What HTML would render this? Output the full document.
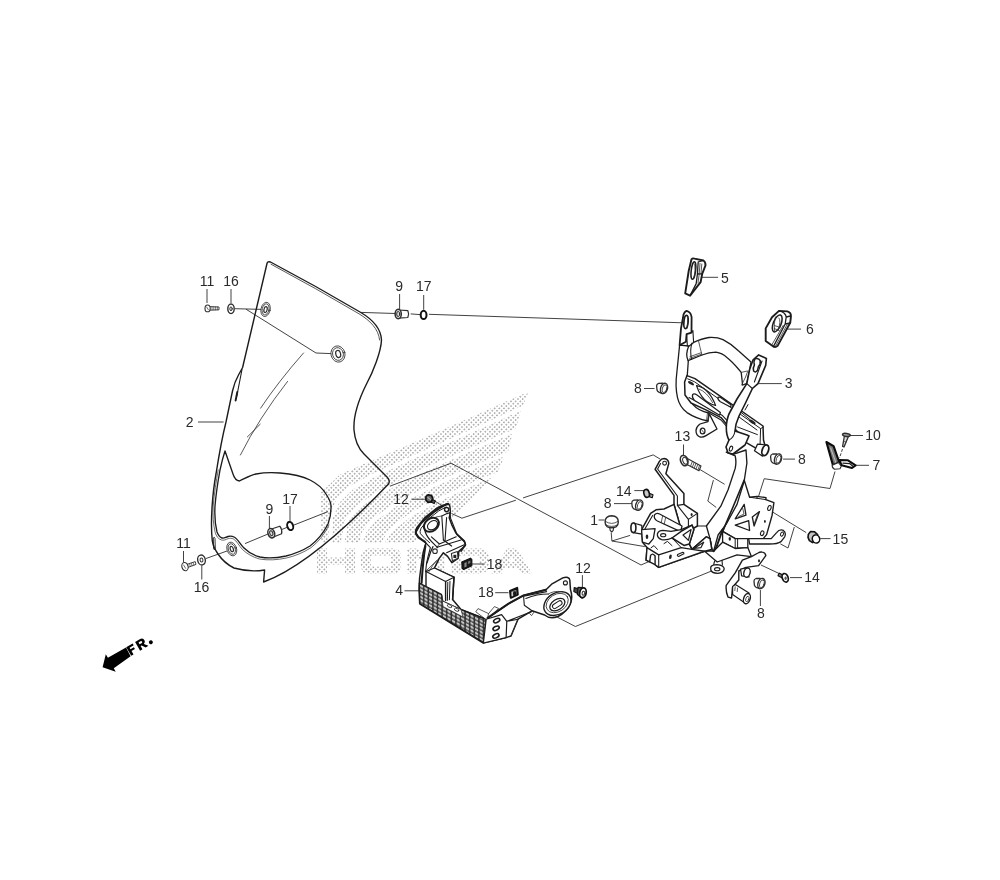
<!DOCTYPE html>
<html><head><meta charset="utf-8">
<style>
html,body{margin:0;padding:0;background:#fff;}
body{width:1000px;height:880px;overflow:hidden;font-family:"Liberation Sans",sans-serif;}
svg{display:block;will-change:transform;transform:translateZ(0);filter:blur(.45px)}
.o{fill:#fff;stroke:#1c1c1c;stroke-width:1.25;stroke-linejoin:round;stroke-linecap:round}
.n{fill:none;stroke:#1c1c1c;stroke-width:1.25;stroke-linejoin:round;stroke-linecap:round}
.t{fill:none;stroke:#2e2e2e;stroke-width:.8;stroke-linejoin:round;stroke-linecap:round}
.tw{fill:#fff;stroke:#2e2e2e;stroke-width:.8;stroke-linejoin:round;stroke-linecap:round}
.l{fill:none;stroke:#2c2c2c;stroke-width:.9;stroke-linecap:butt;stroke-linejoin:miter}
.k{fill:#222;stroke:#1c1c1c;stroke-width:.8;stroke-linejoin:round}
text{font-family:"Liberation Sans",sans-serif;font-size:14px;fill:#2a2a2a;text-anchor:middle}
</style></head><body>
<svg width="1000" height="880" viewBox="0 0 1000 880">
<defs>
<pattern id="dots" width="3.3" height="3.3" patternUnits="userSpaceOnUse" patternTransform="rotate(45)">
<circle cx="1.65" cy="1.65" r=".7" fill="#666"/>
</pattern>
<clipPath id="wing">
<path d="M320.8,492.8 L340,474.4 L367.2,462.4 L412,443.2 L470,417.8 L506,401.6 L528.5,391.7 L523,405.5 L470,430 L412,456 L372,474 L350,486 L336,500 L330,516 L328,543 L320.8,543 Z"/>
<path d="M520.6,411 L516,428.5 L470,448 L420,470 L380,490 L356,506 L345,520 L341,543 L331.5,543 L333,518 L339,503 L353,489.5 L374,477.5 L412,459.5 L470,433.5 Z"/>
<path d="M512.6,433.6 L508,451.5 L470,467 L430,485 L395,503 L372,519 L362,532 L359,543 L344.5,543 L348,522 L358.5,508.5 L382,493 L421,473.5 L470,451.5 Z"/>
<path d="M504.6,456.2 L497.6,472 L470,483.5 L440,497 L410,513 L390,528 L381,543 L362.5,543 L365.5,533.5 L375,521.5 L397,506 L431.5,488.2 L470,470.6 Z"/>
<path d="M492,477.6 L482,487.6 L470,502 L452,518 L430,533 L412,543 L384.5,543 L393,530.5 L412,516 L441.5,500.2 L470,487 Z"/>
<!-- HONDA -->
<path d="M317,548.5 h10 v9 h18 v-9 h10 v25 h-10 v-9 h-18 v9 h-10 Z"/>
<path fill-rule="evenodd" d="M369,548.5 h24 q8,0 8,8 v9 q0,8 -8,8 h-24 q-8,0 -8,-8 v-9 q0,-8 8,-8 Z M371,555.5 v11 h20 v-11 Z"/>
<path d="M407,548.5 h10 l18,15 v-15 h10 v25 h-10 l-18,-15 v15 h-10 Z"/>
<path fill-rule="evenodd" d="M451,548.5 h29 q9,0 9,9 v7 q0,9 -9,9 h-29 Z M461,555.5 v11 h18 v-11 Z"/>
<path fill-rule="evenodd" d="M507,548.5 h10 l15,25 h-11 l-3,-5.5 h-13 l-3,5.5 h-11 Z M509.2,562 h6 l-3,-6 Z"/>

</clipPath>
</defs>
<rect width="1000" height="880" fill="#fff"/>
<g id="watermark">
<rect x="310" y="385" width="230" height="195" fill="url(#dots)" clip-path="url(#wing)"/>
</g>
<g id="lines">
<!-- label leaders -->
<path class="l" d="M207,289 V303 M231,289 V303"/>
<path class="l" d="M399.6,294 V309 M423.7,295 V309.7"/>
<path class="l" d="M198,422 H223.6"/>
<path class="l" d="M269.4,516 V530 M290,506 V523"/>
<path class="l" d="M183.5,551 V562 M201.8,565.5 V579.5"/>
<path class="l" d="M411.4,499.2 H425"/>
<path class="l" d="M582.4,575.1 V587"/>
<path class="l" d="M404.5,590.8 H419.5"/>
<path class="l" d="M472.1,564 H484.7 M495.2,592.7 H508.5"/>
<path class="l" d="M702,277.3 H718.1 M787.4,329.1 H801 M758.7,383.6 H781.8"/>
<path class="l" d="M644,388.5 H654.5 M783.1,459.1 H795 M614,503.6 H632.2 M760.4,590 V606"/>
<path class="l" d="M683.5,444.5 V455"/>
<path class="l" d="M850,435.5 H863 M856,465.3 H869"/>
<path class="l" d="M634.3,490.6 H644.1 M790,577.6 H802"/>
<path class="l" d="M598.6,520 H604.5"/>
<path class="l" d="M820.2,538.6 H830.5"/>
<!-- windscreen top-left fasteners -->
<path class="l" d="M235,308.7 L262,309.4 M246,309.2 L316,353 L331,353.6"/>
<!-- top long line 9/17 to bracket eye -->
<path class="l" d="M361,312.4 L395.3,313.5 M410.7,313.9 L420.1,314.6 M428.9,314.3 L682.4,322.8"/>
<!-- bottom-left fasteners line -->
<path class="l" d="M206,558.5 L227,551 M245,543.6 L268,534 M282,529.4 L287,527.4 M294,525 L328,511.6"/>
<!-- big assembly lines -->
<path class="l" d="M389.9,486.2 L451.1,463.2 L641,565 L656,558.5"/>
<path class="l" d="M461.9,518.2 L515.9,500.2 M523.1,497.9 L653.2,454.9 L660.2,459.1"/>
<path class="l" d="M451.5,513.5 L461.9,518.2"/>
<path class="l" d="M434.5,500.8 L441,505"/>
<path class="l" d="M557.2,617.1 L575.4,626.5 L714,570"/>
<!-- part 13 bolt line and bracket -->
<path class="l" d="M700.1,469.6 L724.6,484.3 M713.4,480.1 L707.8,501.1 L716.2,507.4"/>
<!-- part 1 V -->
<path class="l" d="M611.2,532.6 L611.9,541 L630.1,535.4 M611.9,541 L644.8,546.6"/>
<!-- part 7 line -->
<path class="l" d="M835,471.5 L830,488.5 L764.2,478.7 L758.6,496.2"/>
<path class="l" d="M842.5,449 L839.5,458" style="stroke-dasharray:3 1.5"/>
<!-- part 15 line -->
<path class="l" d="M771.9,511.6 L806.2,532.6 M794.3,527 L788,548 L780.3,543.8"/>
<!-- part 14 right line -->
<path class="l" d="M761,565 L778,573"/>
</g>
<g id="windscreen">
<!-- outer outline -->
<path class="n" style="stroke-width:1.4" d="M267,263.5 Q267.6,261 270.5,262 Q316,286 360,312 C372,319 381,328 381.5,340 C381,352 373,372 366.5,384 C360,397 353,414 354,430 C355,442 360,450 364,454 L387,477 Q390.5,480.5 388.5,484 Q311,565 263.6,582 L264.6,570 Q250,572.5 234,568 Q224,563 218,554 Q213.5,548 212.3,541 C210,520 213,490 216,474 C219,455 222,438 226,422 L232.5,391 Q234.5,382 238.5,375 L242.6,367.5 Z"/>
<!-- top edge second line -->
<path class="t" d="M271,264.2 Q316,288.3 359,313.8 C370,320.5 378.6,329 379.6,340"/>
<!-- left notch inner line -->
<path class="n" style="stroke-width:1.1" d="M242,369.5 L236.8,396"/>
<path class="n" style="stroke-width:1.9" d="M237.3,392 L235.6,400.5"/>
<!-- slot near bottom-left -->
<path class="n" style="stroke-width:.9" d="M213.6,537.5 Q214.6,536.5 215,538.5 L215.3,549 Q214.6,551 213.7,549 Z"/>
<!-- reflections -->
<path class="t" d="M303.5,353 Q278,382 260.6,408.2"/>
<path class="t" d="M287.6,381.4 Q259,418 240.4,455"/>
<path class="t" d="M260.2,424.2 L247.3,437"/>
<!-- inner cutout -->
<path id="cut" class="n" style="stroke-width:1.35" d="M225,451 L233,474 Q235,480.5 239.5,481 C245,478.5 250,475.2 256,474 C265,472.3 272,472.3 280,473 C292,474 302,476 310,480 C318,484 323,489 326,494 C330,500 331.5,504 331,508 C331,514 330,519 328,524 C324,532 318,540 310,546 C302,551 294,554 286,556 C277,558 268,558.5 260,557 C254,555.5 248,552 244,548 C240,544 238,539 234,537 C232,536 230,536 228,536.5 C225,537.5 224,538.8 222,538 C219,537 218,534.5 217,532 C215,524 214.5,515 215,506 C216,494 218,481 220,470 C221.5,463 223,457 225,451 Z"/>
<path class="t" style="stroke-width:.7" d="M329,525 C325,533.5 319,541.5 311,547.7 C303,552.8 295,556 286.5,558 C277,560 268,560.5 259.5,559 C253,557.3 246.5,553.5 242.5,549.5 C239,546 237,541 233.5,539 C231.5,538 230,538.2 228.3,538.6 C225.5,539.5 224,540.8 221.5,540 C218,539 216.3,536 215.2,532.6 C213.2,524 212.7,515 213.2,506 C214.2,494 216.2,481 218.2,470"/>
<!-- grommets -->
<g transform="rotate(12 265.6 309.4)"><ellipse class="tw" cx="265.6" cy="309.4" rx="4.6" ry="7.2"/><ellipse class="t" cx="265.6" cy="309.4" rx="3.4" ry="5.6"/><ellipse class="t" style="stroke-width:1.2" cx="265.6" cy="309.6" rx="1.6" ry="3"/></g>
<g transform="rotate(-15 338 354)"><ellipse class="tw" cx="338" cy="354" rx="7" ry="8.2"/><ellipse class="t" cx="338" cy="354" rx="5.4" ry="6.4"/><ellipse class="t" style="stroke-width:1.2" cx="338.2" cy="354" rx="2.4" ry="3.6"/></g>
<g transform="rotate(-18 231.8 549)"><ellipse class="tw" cx="231.8" cy="549" rx="4.8" ry="7"/><ellipse class="t" cx="231.8" cy="549" rx="3.5" ry="5.4"/><ellipse class="t" style="stroke-width:1.2" cx="231.8" cy="549" rx="1.5" ry="2.8"/></g>
</g>
<g id="part4">
<defs>
<pattern id="grid" width="4.6" height="3.7" patternUnits="userSpaceOnUse" patternTransform="matrix(1 .52 0 1 419 583)">
<rect width="4.6" height="3.7" fill="#303030"/><rect x=".8" y=".65" width="3.2" height="2.5" rx=".8" fill="#c6c6c6"/>
</pattern>
</defs>
<!-- main silhouette (white fill to hide watermark) -->
<path class="o" style="stroke-width:1.5" d="M446.9,503.8 Q449.5,504 449.9,506.5 L450.4,512.2 L449.2,517.8 L451.8,524.8 L456,533.2 L464.4,541.6 Q466,544 465.1,545.8 L458.8,551.4 L458.1,558.4 L451.8,562.6 L447.6,556.3 L443.4,552.8 L439.2,558.4 L434.4,568.1 L454,577.2 L452.6,599.6 L461,609.4 L486.2,619.2 L508.2,603.8 L523.6,595.4 L546,589.8 L551.6,584.2 L562.8,577.9 Q566,576.6 567.7,577.5 Q569.6,578.4 569.8,580 L570.5,589.8 Q573,597 570.5,603.5 Q567,612 558,616.5 Q550,619.5 544.6,615 L532,610.8 L518,619.2 L511,636 L506.1,637.6 L483.4,643 L419.7,603.8 L419,589.2 L419.6,578 L421,566.8 L423.1,552.8 L425.9,543 L417.5,536 Q415.4,534 416.1,531.8 L421,523.4 L435,511.5 Z"/>
<!-- grille area -->
<path d="M419.3,583 L441.4,594.2 L442.8,601.2 L461,609.6 L486,619.4 L483.6,642.6 L419.9,603.5 Z" fill="url(#grid)" stroke="#1a1a1a" stroke-width="1.2" stroke-linejoin="round"/>
<path d="M441.6,594.4 L442.9,601.2 L461,609.6 L463,617 L443,606.5 Z" fill="#fff" stroke="#222" stroke-width=".7"/>
<ellipse cx="449.5" cy="606" rx="2.4" ry="1.3" class="tw" transform="rotate(25 449.5 606)"/><ellipse cx="456.6" cy="609.8" rx="2.4" ry="1.3" class="tw" transform="rotate(25 456.6 609.8)"/>
<!-- right face with 3 oval holes -->
<path class="o" style="stroke-width:1.2" d="M486.2,619.2 L501.6,614.6 L506.8,621.3 L506.1,637.6 L483.4,643 Z"/>
<g class="n" style="stroke-width:1.6"><ellipse cx="496.7" cy="620.6" rx="3.3" ry="1.9" transform="rotate(-25 496.7 620.6)"/><ellipse cx="496.1" cy="628.3" rx="3.3" ry="1.9" transform="rotate(-25 496.1 628.3)"/><ellipse cx="495.9" cy="635.9" rx="3.3" ry="1.9" transform="rotate(-25 495.9 635.9)"/></g>
<path class="n" style="stroke-width:1.1" d="M506.8,621.3 L518,619.2 M506.8,621.3 L532,611.5"/>
<!-- small block on top edge near right face -->
<path class="tw" d="M476,611.5 L478,608.6 L488.6,613.6 L494.4,606.6 L498.6,608.4 L490,616.6 L486.2,619.2 Z"/>
<path class="t" d="M488.6,613.6 L487.4,618.6"/>
<!-- box -->
<path class="o" style="stroke-width:1.1" d="M426,571.6 L434.4,568.1 L454,577.2 L445.6,581.4 Z"/>
<path class="n" style="stroke-width:1.4" d="M445.6,581.4 L445.6,600.6 M454,577.2 L452.6,599.6 M426,571.6 L426,586.6"/><path class="n" style="stroke-width:1" d="M447.8,582.4 L447.4,600.4 M450,581.4 L449.4,599.8"/>
<path class="t" d="M425.9,571 L439.2,558.4"/>
<!-- left flange inner lines -->
<path class="n" style="stroke-width:1.1" d="M425.9,543 L430.4,547.6 Q428,556 426.6,563 L425.6,571.6"/>
<path class="n" style="stroke-width:2" d="M425.4,546 Q423,560 421.6,583"/>
<path class="t" d="M428.4,572.6 L432.6,565.6 L436.6,560.6"/>
<!-- outer flange bold -->
<path class="n" style="stroke-width:2.1" d="M448.2,504 Q442,505.4 437,508.4 L425,517.8 L417,528 Q415.2,531.4 416,533.6 L418.6,537.6 L425,541.8"/>
<path class="n" style="stroke-width:1" d="M446,507 L438.6,511 L428,519.4 L421,528.4 Q419.4,531.6 420.4,533.6 L425,538.6 L429.6,542.6"/>
<!-- ring -->
<g transform="rotate(-38 431.4 524.8)"><ellipse class="o" style="stroke-width:2" cx="431.4" cy="524.8" rx="8.2" ry="6.2"/><ellipse class="n" style="stroke-width:1.1" cx="432" cy="525.8" rx="5.6" ry="4"/></g>
<path class="n" style="stroke-width:1.3" d="M424.6,529.6 Q426,536 431.6,541.6 L437.6,547.6"/>
<!-- inner ribs -->
<path class="n" style="stroke-width:1.1" d="M441.8,516 L443.4,540 M446.6,517.6 L445,541 M441.8,516 L447,513.6 L449.8,512.8"/>
<path class="n" style="stroke-width:1.1" d="M431.4,536.8 L439.4,544 L456.2,536.8 M437,547.2 L461,540 M446.6,552.8 L464.2,544.8"/>
<path class="t" d="M436,517 L441.8,516 M439.4,544 L437,547.2"/>
<path class="n" style="stroke-width:1.2" d="M449.8,512.8 L450.6,518.4 L457,534.4 M443.4,540 L451.6,546 M433,546.6 L430.6,552 L427,563"/>
<path class="n" style="stroke-width:1.6" d="M457,534.4 L464.2,540.8 L465.4,544.8 L461,551.2"/>
<!-- bolt hole in tab -->
<circle class="n" style="stroke-width:1.4" cx="446.6" cy="509.6" r="2.1"/>
<!-- small knob under arm -->
<circle class="tw" style="stroke-width:1.1" cx="435" cy="551.2" r="2.3"/>
<!-- small square w/ hole -->
<path class="tw" style="stroke-width:1.1" d="M451.4,553.6 L457.4,551.6 L458,558.2 L452.4,560.8 Z"/><rect x="453.4" y="554.8" width="2.9" height="3.2" fill="#222"/>
<!-- right arm -->
<path class="n" style="stroke-width:1.1" d="M523.6,596.2 L524.3,605.2 L532,610.8 M523.6,596.2 L546.6,591.6 M525.8,598.4 Q537,594 548.4,594"/>
<path class="t" d="M511,636 L518,619.2 M532,611 L529.6,613.6 L531.6,615.6 L534,612"/>
<path class="n" style="stroke-width:2" d="M487.6,617.8 L508.2,603.8 L523.6,595.4 L546,589.8"/>
<!-- boss -->
<g transform="rotate(-33 557.4 603.6)"><ellipse class="o" style="stroke-width:1.4" cx="557.4" cy="603.6" rx="14.6" ry="10.6"/><ellipse class="t" cx="557.6" cy="603" rx="12" ry="8.6"/><ellipse class="n" style="stroke-width:1.3" cx="556.8" cy="604.4" rx="8.4" ry="5.2"/><rect class="n" style="stroke-width:1" x="551.4" y="602.2" width="10.6" height="4.4" rx="2.2"/></g>
<path class="t" d="M548.4,594 Q553,590.6 561.6,591.6"/>
<circle class="n" style="stroke-width:1.1" cx="565.4" cy="582.9" r="2"/>
</g>
<g id="bracket">
<!-- ===== part 5 cap ===== -->
<path class="o" style="stroke-width:1.9" d="M691.5,259.3 Q692.5,258 694.5,258.6 L703.4,260.5 Q705.6,261.6 705.5,265.4 L702.2,273.8 L700.6,282.2 L690.1,295.6 L685.2,293.4 L688.7,271 Z"/>
<path class="n" style="stroke-width:1.3" d="M698.2,262 L697.4,274 L696.2,283.6 L690.1,295.6 M698.2,262 L703.4,260.5 M697.4,274 L702.2,273.8"/>
<path class="t" d="M700,263.4 L699.2,274 L698,283 M701.8,264 L701,273.6"/>
<ellipse class="n" style="stroke-width:1.5" cx="693.4" cy="270.6" rx="2.2" ry="8.8" transform="rotate(7 693.4 270.6)"/>
<path class="t" d="M694.8,264 Q695.8,271 694,278"/>
<!-- ===== part 6 cap ===== -->
<path class="o" style="stroke-width:1.9" d="M779,310.9 L787.4,311.4 Q791.4,312.6 790.9,316.8 L790.2,322.8 L777.6,345.9 Q775.6,347.6 773.4,346.6 L765.7,341 L765.7,328.4 L772,317.2 Z"/>
<path class="n" style="stroke-width:1.3" d="M786.2,317 L785.2,324 L773.4,346.6 M786.2,317 L790.6,316 M785.2,324 L790.2,322.8 M779,310.9 Q785.6,312.4 786.2,317"/>
<ellipse class="n" style="stroke-width:1.5" cx="777.2" cy="323.4" rx="3.9" ry="9" transform="rotate(22 777.2 323.4)"/>
<path class="t" d="M775.4,317 Q773.6,324 774.4,331 M779,318 Q781.4,320.6 778,330.6 M774.6,325.6 L780,327.4 M774.2,328.6 L779.2,330.4"/>
<path class="t" d="M783.2,325.4 L771.6,345.2 M787.4,324 L775.6,346"/>

<!-- ===== part 3 upper frame ===== -->
<!-- left tube (behind plate) -->
<path class="o" style="stroke-width:1.3" d="M679.6,345.2 L676.8,373 Q675,386 677.5,397.6 Q679.6,407 687,412.6 Q696,418.6 708,421 L709,413 Q698,410.6 693,404.6 Q688.4,398.6 687.4,390 L686.6,385 L688.3,361 L689,346 Z"/>
<!-- cross tube -->
<path class="o" style="stroke-width:1.3" d="M688.6,346.4 L693.6,342.4 Q702,338.4 709,337.5 Q717,337 723,339.6 Q731,343.6 738.4,350.8 L751,362 L749.6,369.6 L746.8,383.6 L742.6,385 L741.2,372.4 L738.4,369 Q732,361.6 727.2,357.8 Q722,353 716,352.2 Q709,352.2 702,355 L688,360.6 Q685.2,354 688.6,346.4 Z"/>
<path class="n" style="stroke-width:1.1" d="M692,343 Q689.6,350 691.6,359.4"/><path class="t" d="M698.4,340.4 Q700,347.6 702,355 M690,356.6 L701,352.8 M689.6,358.4 L701.6,354.2"/>
<path class="t" d="M741.2,372.4 L747.4,371 M742.6,385 L746.8,383.6"/>
<!-- left eye -->
<path class="o" style="stroke-width:1.8" d="M686.6,310.9 Q683.4,312.4 683.1,317.2 L681,328.4 L679.6,345.2 L685.9,341.8 L686.6,334.2 L691.5,332.6 L691.6,317.2 Q691,312 686.6,310.9 Z"/>
<path class="n" style="stroke-width:1.1" d="M691.5,332.6 L692.9,330.5 L693.6,342.4 M686.6,334.2 L687.4,346"/>
<ellipse class="n" style="stroke-width:1.7" cx="686" cy="322" rx="2.1" ry="6.6" transform="rotate(5 686 322)"/>
<path class="t" d="M687.6,316 Q688.6,322 686.8,328.6"/>

<!-- plate -->
<path class="o" style="stroke-width:1.5" d="M687,375.6 L695,378.6 L763,426 L763.5,440 L765.4,447 L765,455 L758,449.4 L737.6,437.6 L721,417.6 L707,410.4 L691,403 L685,395 L684.6,382 Z"/>
<path class="n" style="stroke-width:1" d="M687.6,378.8 L694.6,381.8 L760.6,428.6 L763.4,427 M760.6,428.6 L760,446"/>
<path class="n" style="stroke-width:1.1" d="M689,397.6 L708,407.4 L722,415.2 L738,432 M709,413 L721,420 L735,436"/>
<g style="fill:#fff;stroke:#1c1c1c;stroke-width:1.2;stroke-linejoin:round"><path d="M696.5,385.6 Q709,388 715.6,405.4 Q702,402.4 696.5,385.6 Z"/><path d="M718,397.4 Q719.6,396.6 722,398.4 L730.6,404.4 Q731.8,406.4 730,406.8 L720.4,401.8 Q717.4,399.6 718,397.4 Z"/><path d="M692.6,394.4 Q694.4,393.2 697,395 L720.4,412.4 L719.6,415.2 L694.6,400.6 Q691.6,397.6 692.6,394.4 Z"/></g>
<path class="t" d="M699,389 Q707,392 712.6,402.6"/>
<ellipse cx="691" cy="383.2" rx="3.4" ry="1.3" fill="#222" transform="rotate(32 691 383.2)"/>
<ellipse cx="752.4" cy="422" rx="3.6" ry="1.5" fill="#222" transform="rotate(32 752.4 422)"/>
<path class="n" style="stroke-width:1" d="M740.6,412 L750,419.6 M739,417 L757,430 M737.6,427 L757.4,434.6 M745,410 L748,404.6"/>
<!-- stub cylinder -->
<path class="o" style="stroke-width:1.3" d="M757.5,444.2 L765.6,444.8 L762.6,456.2 L754.5,450.8 Z"/>
<ellipse class="o" style="stroke-width:1.8" cx="765.3" cy="450.3" rx="3.1" ry="5.5" transform="rotate(20 765.3 450.3)"/>
<!-- left tab with hole -->
<path class="o" style="stroke-width:1.3" d="M708,421.6 L700,424 Q696.4,426.4 696,430.4 Q696,435.4 700,437 Q703,437.6 706,435.6 L717,429 L709,413.4 Z"/>
<ellipse class="n" style="stroke-width:1.2" cx="702.6" cy="431" rx="2.4" ry="2.9"/><path class="t" d="M701.6,429.6 L703.6,432.4"/>
<path class="t" d="M707.6,412 L706.6,420 M709.2,412.8 L708.2,420.8"/>

<!-- right tube + eye -->
<path class="o" style="stroke-width:1.6" d="M758.7,354.9 L766.4,358.4 L765.7,365.4 L758,383.6 L752.4,388.5 L745,404 L739,416 Q735.4,424 735,431 L747,435 L749,436 L745,445 L733,454 L728,453 L726,447 L729,440 Q725.6,434 726.5,424 Q727.6,416 730,412 L737,399 L746.8,383.6 L749.6,369.6 L753.1,359.8 Z"/>
<path class="n" style="stroke-width:1.1" d="M746.8,383.6 L752.4,388.5 M762,361 L754.4,382 M729,440 Q734,437.6 735,431"/>
<path class="n" style="stroke-width:1.5" d="M755,358.8 Q758.6,357.6 760.2,360.6 Q760.8,364 758.4,366.6 L757.4,370.6 Q755.4,373 753.6,371 Q752.6,368 754.4,365 Q753.4,361 755,358.8 Z"/>
<ellipse class="n" style="stroke-width:1.1" cx="731" cy="448.6" rx="1.5" ry="2.6" transform="rotate(20 731 448.6)"/>
<path class="t" d="M741.6,385 L745.6,377 L747.6,371.6"/>
</g>
<g id="base">
<!-- ===== right plate with triangles ===== -->
<path class="o" style="stroke-width:1.4" d="M744.2,480.1 L749.6,497.2 L757,496.4 L766,497.6 L765.8,499.6 L773.9,502.6 L772.1,515.2 L766.6,534.6 L762,540 L749,538.6 L735.2,538.6 L722.6,531.4 L733,507 Z"/>
<path class="n" style="stroke-width:1" d="M749.6,497.2 L765.8,499.6 M757,496.4 L757,498.4"/>
<g style="fill:#fff;stroke:#1c1c1c;stroke-width:1.3;stroke-linejoin:round"><path d="M744.2,504.4 L746,515.2 L735.2,518.8 Z"/><path d="M748.7,520.6 L749.6,530.5 L735.2,525.1 Z"/><path d="M759.5,511.6 L754.1,526 L752.3,517 Z"/></g>
<path class="t" d="M742.6,508 L744,514 L738.6,516.6 M757.6,514.6 L754.4,523"/>
<ellipse class="n" style="stroke-width:1.1" cx="769.4" cy="508" rx="1.6" ry="2.6" transform="rotate(20 769.4 508)"/>
<ellipse class="n" style="stroke-width:1.1" cx="762.2" cy="533.2" rx="1.6" ry="2.4" transform="rotate(20 762.2 533.2)"/>
<ellipse cx="764.9" cy="521.5" rx=".9" ry="1.4" fill="#222"/>
<!-- right arm loop -->
<path class="o" style="stroke-width:1.3" d="M748.7,538.6 L771.2,538.6 L776.6,532.6 Q779.6,528.8 783.4,530.4 Q786.4,532.6 784.7,536.8 L781,541.6 Q777.6,544 769.4,544 L749.6,544 Z"/>
<ellipse class="n" style="stroke-width:1" cx="782" cy="534.1" rx="1.4" ry="2.1" transform="rotate(25 782 534.1)"/>
<!-- right box -->
<path class="o" style="stroke-width:1.3" d="M722.6,531.4 L735.2,538.6 L747.8,538.6 L747.8,547.6 L735.2,548.5 L722.6,542.2 Z"/>
<path class="n" style="stroke-width:1" d="M735.2,538.6 L735.2,548.5 M737.6,539 L737.6,548.2"/><ellipse cx="729.8" cy="538.8" rx="1.2" ry="1.9" fill="#222"/>
<!-- base plate right/under -->
<path class="o" style="stroke-width:1.3" d="M704.6,551.2 L713.6,551.2 L722.6,542.2 L735.2,548.5 L747.8,547.6 L751.4,556.6 L737,554.8 L717.2,562 Z"/>
<!-- stem -->
<path class="o" style="stroke-width:1.35" d="M726.2,452.2 L735.2,455.8 Q736.6,462 735.2,468.4 L728,490 L720.8,506.2 L706.4,526 L710,538.6 L711.8,549.4 L713.6,551.2 L718.1,535 L726.2,524.2 L737,504.4 L744.2,481 L746.9,463 L746,450 L733,454.4 Z"/>
<path class="n" style="stroke-width:1.9" d="M722.6,529.6 L716.6,546.6 L713.6,551.2"/>
<path class="n" style="stroke-width:1.6" d="M744.2,480.1 L733,507 L722.6,531.4"/>

<!-- ===== upright arm (left) ===== -->
<path class="o" style="stroke-width:1.5" d="M664.1,458.6 Q668.4,459.2 668.8,463.4 L665.9,473.8 L683.9,493.6 L683.9,504.4 L697.4,513.4 L697.4,526 L688.4,531.4 L681.2,529.6 L674,504.4 L674,495.4 L655.1,469.3 L659.4,461.4 Q661.4,458.6 664.1,458.6 Z"/>
<path class="n" style="stroke-width:1.1" d="M660.6,463.6 L657.6,469 L677.4,496 L677.4,505.4 L688.4,519.4 L688.4,531.4 M677.4,505.4 L683.9,504.4 M688.4,519.4 L697.4,513.4"/>
<circle class="n" style="stroke-width:1.1" cx="664.6" cy="463.2" r="1.9"/>
<ellipse cx="691.6" cy="514.6" rx="1" ry="1.6" fill="#222"/>

<!-- ===== left body ===== -->
<path class="o" style="stroke-width:1.5" d="M641.6,529.6 L650.6,513.4 L656,509.8 L664,509 L674,504.4 L681.2,529.6 L692,525.1 L693.8,529.6 L689.3,544 L692,549.4 L706.4,536.8 L710,538.6 L711.8,549.4 L704.6,551.2 L658.7,567.4 L655.1,564.7 L646.1,560.2 L647,547.6 L642.5,542.2 Z"/>
<path class="n" style="stroke-width:1.1" d="M652.6,515.4 L644,530.6"/>
<!-- left pin -->
<path class="o" style="stroke-width:1.2" d="M633.5,523 L641.8,525.4 L641.8,534.2 L633.5,532.6 Z"/>
<ellipse class="o" style="stroke-width:1.6" cx="633.4" cy="527.8" rx="2.5" ry="4.8"/>
<!-- plate with hole -->
<path class="o" style="stroke-width:1.3" d="M641.6,529.6 L655.1,528.7 L653.3,538.6 L648.8,544 L642.5,542.2 Z"/>
<ellipse cx="647" cy="536.8" rx="1.3" ry="2.3" fill="#222"/>
<!-- roller -->
<path class="o" style="stroke-width:1.3" d="M654.4,515 Q656.6,512.4 659.6,514 L682,526 L680.6,531.6 L657.4,521 Q653.6,519 654.4,515 Z"/>
<path class="t" d="M662.6,516.2 L661.2,522.6 M665.6,517.8 L664.2,524.2"/>
<!-- center tab with hole -->
<path class="o" style="stroke-width:1.3" d="M657.4,534 Q658.4,530.4 663,530.4 L671,531.4 L681.2,529.6 L684,533 L672,538 Q667,540.4 661.6,539.6 Q657,538 657.4,534 Z"/>
<ellipse class="n" style="stroke-width:1.1" cx="663.2" cy="535.2" rx="2.6" ry="1.6"/>
<!-- truss 1 -->
<path class="o" style="stroke-width:1.5" d="M681.2,531.4 L692,525.1 L693.8,529.6 L689.3,544 L684,545.4 L672,538 Z"/>
<path class="o" style="stroke-width:1.2" d="M683,535 L691.1,529.6 L688.4,540.4 Z"/>
<!-- truss 2 -->
<path class="o" style="stroke-width:1.5" d="M692,549.4 L706.4,536.8 L710,538.6 L711.8,549.4 L704.6,551.2 L694,553 Z"/>
<path class="o" style="stroke-width:1.2" d="M693.8,548.5 L703.7,542.2 L701,547.6 Z"/>
<path class="n" style="stroke-width:1.2" d="M689.3,544 L692,549.4 M697.4,526 L706.4,526"/>
<!-- front face -->
<path class="o" style="stroke-width:1.4" d="M647,547.6 L658.7,554.8 L681.2,547.6 L692,549.4 L704.6,551.2 L658.7,567.4 L655.1,564.7 L655.1,556 Q652.6,552.6 650.6,555.4 L649.7,561.8 L646.1,560.2 Z"/>
<path class="n" style="stroke-width:1.1" d="M658.7,554.8 L658.7,567.4"/>
<ellipse cx="670.4" cy="556.8" rx="1.3" ry="2.3" fill="#222" transform="rotate(15 670.4 556.8)"/>
<path class="n" style="stroke-width:1.1" d="M677.6,554.4 L682.8,552.2 Q684.2,552.4 683.8,553.8 L678.6,556.4 Q676.8,556.2 677.6,554.4 Z"/>
<path class="n" style="stroke-width:1" d="M651,547.8 L654,545.6 L657.4,549.4 M664,543.6 L667.4,541.4 L672,545.6 M672,538 L681.2,547.6"/>
<!-- bottom tab w hole -->
<path class="n" style="stroke-width:1.1" d="M714.6,561 L713.6,565 M722,560.4 L722.4,565"/>
<path class="o" style="stroke-width:1.3" d="M710.8,567 Q711.8,564.6 717.2,564.6 Q723.8,565.2 724.2,568.8 Q723.6,572.8 717.8,573.4 Q711.4,573 710.8,570 Z"/>
<ellipse class="n" style="stroke-width:1.1" cx="717.2" cy="569.2" rx="2.7" ry="1.6"/>

<!-- ===== lower plate with pins ===== -->
<path class="o" style="stroke-width:1.4" d="M762.2,552.1 Q765.4,552.4 765.8,555.7 L758.6,565.6 L746,567.4 L738.8,571 L738.8,580 L732.5,587.2 L731.6,598 L728,597.1 Q725.6,591 726.2,585.4 L735.2,572.8 L742.4,560.2 L751.4,556.6 L758,553 Q760,551.8 762.2,552.1 Z"/>
<ellipse cx="759" cy="560.8" rx="1" ry="1.5" fill="#222"/>
<path class="o" style="stroke-width:1.2" d="M740.6,569.2 L747.4,567.6 L749,577 L741.6,575.8 Z"/>
<ellipse class="o" style="stroke-width:1.4" cx="747" cy="572.6" rx="3.1" ry="4.7" transform="rotate(15 747 572.6)"/>
<path class="o" style="stroke-width:1.2" d="M732.6,586.4 L735.4,584.6 L749,593 L745,603 L732.6,594.6 Z"/>
<path class="t" d="M735.2,586.8 L734.8,590.6 M737.6,588 L737.2,591.6"/>
<ellipse class="o" style="stroke-width:1.4" cx="746.9" cy="598.6" rx="3.2" ry="5.3" transform="rotate(20 746.9 598.6)"/>
<ellipse class="t" cx="747.3" cy="599" rx="1.5" ry="2.8" transform="rotate(20 747.3 599)"/>
</g>
<g id="smallparts">
<!-- screw 11 top -->
<g><path class="tw" style="stroke-width:.9" d="M208.5,306.6 L219,307 L219,309.8 L208.5,310.2 Z"/><path class="t" style="stroke-width:.6" d="M212,306.8V310 M213.8,306.8V310 M215.6,306.8V310 M217.4,306.9V309.9"/><ellipse class="tw" style="stroke-width:1.1" cx="207.6" cy="308.4" rx="2.6" ry="3.4"/><path class="t" style="stroke-width:.7" d="M206.6,307 L208.4,309.8"/></g>
<!-- washer 16 top -->
<ellipse class="tw" style="stroke-width:1.4" cx="231" cy="308.8" rx="3.2" ry="4.8"/><ellipse class="t" style="stroke-width:1" cx="231" cy="308.8" rx="1.2" ry="1.9"/>
<!-- collar 9 top -->
<g><path class="tw" style="stroke-width:1.2" d="M399,310 L407.8,310.6 Q409.4,314 407.8,317.5 L399,318.2 Z"/><ellipse class="tw" style="stroke-width:1.5;fill:#ddd" cx="398.2" cy="314" rx="3.1" ry="4.8"/><ellipse class="t" style="stroke-width:1" cx="398.2" cy="314" rx="1.5" ry="2.6"/></g>
<!-- o-ring 17 top -->
<ellipse class="n" style="stroke-width:2;stroke:#111" cx="423.6" cy="314.9" rx="2.9" ry="4.1"/>
<!-- screw 11 bottom -->
<g><path class="tw" style="stroke-width:.9" d="M186.5,564.6 L195.2,561.6 L196,564.4 L187.3,567.6 Z"/><path class="t" style="stroke-width:.6" d="M189.5,563.7l.8,2.7 M191.3,563.1l.8,2.7 M193.1,562.5l.8,2.7"/><ellipse class="tw" style="stroke-width:1.1" cx="185" cy="566.6" rx="3.1" ry="4.2" transform="rotate(-15 185 566.6)"/><path class="t" style="stroke-width:.7" d="M183.6,565 L185.6,568.3"/></g>
<!-- washer 16 bottom -->
<g transform="rotate(-12 201.5 560)"><ellipse class="tw" style="stroke-width:1.4" cx="201.5" cy="560" rx="3.8" ry="5"/><ellipse class="t" style="stroke-width:1" cx="201.5" cy="560" rx="1.4" ry="2"/></g>
<!-- collar 9 bottom -->
<g><path class="tw" style="stroke-width:1.2" d="M271.5,529 L279.8,526.2 Q282.4,529.5 281.6,533.8 L273.5,537 Z"/><ellipse class="tw" style="stroke-width:1.5;fill:#ddd" cx="271.3" cy="533.2" rx="3.3" ry="4.8" transform="rotate(-18 271.3 533.2)"/><ellipse class="t" style="stroke-width:1" cx="271.3" cy="533.2" rx="1.5" ry="2.5" transform="rotate(-18 271.3 533.2)"/></g>
<!-- o-ring 17 bottom -->
<ellipse class="n" style="stroke-width:1.9;stroke:#111" cx="290.2" cy="526" rx="2.9" ry="4.2" transform="rotate(-18 290.2 526)"/>
<!-- screw 12 #1 -->
<g><path style="fill:#555;stroke:#111;stroke-width:1.1;stroke-linejoin:round" d="M430.8,498.4 L435.4,501 L434.2,503.6 L429.6,501.6 Z"/><path style="fill:#6a6a6a;stroke:#111;stroke-width:1.7;stroke-linejoin:round" d="M426,496.4 L428.4,494.8 L431.6,495.6 L432.8,498.6 L431.2,501.8 L428,502.4 L425.8,500 Z"/><path class="t" style="stroke:#ddd;stroke-width:.8" d="M427.6,497.2 L430.6,499.8"/></g>
<!-- screw 12 #2 -->
<g><path style="fill:#444;stroke:#111;stroke-width:1.1;stroke-linejoin:round" d="M574.2,587.6 L578.4,588.8 L577.6,593.4 L573.8,591.6 Z"/><path style="fill:#666;stroke:#111;stroke-width:1.2;stroke-linejoin:round" d="M578,587.4 L583.4,587.6 L582,598 L577.4,594.6 Z"/><ellipse style="fill:#fff;stroke:#111;stroke-width:1.8" cx="582.9" cy="592.8" rx="3.2" ry="5" transform="rotate(12 582.9 592.8)"/><ellipse class="t" style="stroke-width:1" cx="583.4" cy="593.2" rx="1.3" ry="2" transform="rotate(12 583.4 593.2)"/></g>
<!-- clip 18 #1 -->
<g><path style="fill:#1a1a1a;stroke:#111;stroke-width:1.2;stroke-linejoin:round" d="M461.8,562 L470.4,558.2 L471.8,559.4 L471.8,565.8 L463.6,569.4 L462.2,568.6 Z"/><path d="M464.4,563 L466.6,562 L466.6,566.6 L464.4,567.6 Z" fill="#8a8a8a"/><path d="M468,561.6 L470.4,560.6 L470.4,563 L468,564 Z" fill="#777"/></g>
<!-- clip 18 #2 -->
<g><path style="fill:#777;stroke:#111;stroke-width:2;stroke-linejoin:round" d="M510,591 L517.2,587.8 L517.8,594.6 L510.8,597.8 Z"/><ellipse cx="514.7" cy="593.5" rx="1.6" ry="2.2" fill="#1a1a1a"/><path d="M511.6,592.2 L513,591.6 L513,596 L511.6,596.6 Z" fill="#ccc"/></g>
<!-- part 8 caps -->
<g id="cap8"><path class="tw" style="stroke-width:1.3" d="M776.8,453.8 L772.6,454 Q770.6,454.6 770.6,456.6 L771,460.6 Q771.4,462.2 772.8,462.8 L776.4,464.2 Z"/><ellipse class="tw" style="stroke-width:1.4" cx="778" cy="459" rx="3.4" ry="5.3" transform="rotate(18 778 459)"/><ellipse class="t" cx="778.5" cy="459.3" rx="2.2" ry="4" transform="rotate(18 778.5 459.3)"/></g>
<g transform="translate(-114 -70.6)"><path class="tw" style="stroke-width:1.3" d="M776.8,453.8 L772.6,454 Q770.6,454.6 770.6,456.6 L771,460.6 Q771.4,462.2 772.8,462.8 L776.4,464.2 Z"/><ellipse class="tw" style="stroke-width:1.4" cx="778" cy="459" rx="3.4" ry="5.3" transform="rotate(18 778 459)"/><ellipse class="t" cx="778.5" cy="459.3" rx="2.2" ry="4" transform="rotate(18 778.5 459.3)"/></g>
<g transform="translate(-138.8 46.1)"><path class="tw" style="stroke-width:1.3" d="M776.8,453.8 L772.6,454 Q770.6,454.6 770.6,456.6 L771,460.6 Q771.4,462.2 772.8,462.8 L776.4,464.2 Z"/><ellipse class="tw" style="stroke-width:1.4" cx="778" cy="459" rx="3.4" ry="5.3" transform="rotate(18 778 459)"/><ellipse class="t" cx="778.5" cy="459.3" rx="2.2" ry="4" transform="rotate(18 778.5 459.3)"/></g>
<g transform="translate(-16.6 124.5)"><path class="tw" style="stroke-width:1.3" d="M776.8,453.8 L772.6,454 Q770.6,454.6 770.6,456.6 L771,460.6 Q771.4,462.2 772.8,462.8 L776.4,464.2 Z"/><ellipse class="tw" style="stroke-width:1.4" cx="778" cy="459" rx="3.4" ry="5.3" transform="rotate(18 778 459)"/><ellipse class="t" cx="778.5" cy="459.3" rx="2.2" ry="4" transform="rotate(18 778.5 459.3)"/></g>
<!-- part 1 grommet -->
<g><path class="tw" style="stroke-width:1.1" d="M609.8,527.6 L610.2,530.4 L611.7,532 L613.2,530.4 L613.6,527.6"/><path class="tw" style="stroke-width:1.4" d="M605.1,522 Q605,516 611.7,515.7 Q618.4,516 618.3,522 Q618.3,524.8 616.4,526.6 Q611.7,528.8 607,526.6 Q605.1,524.8 605.1,522 Z"/><path class="t" d="M605.4,521.4 Q611.7,525.6 618,521.4 M606.2,525 Q611.7,528 617.2,525"/></g>
<!-- bolt 13 -->
<g><path class="tw" style="stroke-width:1.1" d="M686,457.8 L701,466 L699,470.8 L684.6,463.2 Z"/><path class="t" style="stroke-width:.8" d="M692.4,461.4l-1.8,4.6 M694.2,462.4l-1.8,4.6 M696,463.4l-1.8,4.6 M697.8,464.4l-1.8,4.6 M699.6,465.4l-1.6,4.4"/><ellipse class="tw" style="stroke-width:1.6" cx="684.2" cy="460.6" rx="3.6" ry="5.3" transform="rotate(-20 684.2 460.6)"/><ellipse class="t" style="stroke-width:1" cx="685" cy="460.8" rx="2.1" ry="3.6" transform="rotate(-20 685 460.8)"/></g>
<!-- screw 14 left -->
<g><path style="fill:#999;stroke:#111;stroke-width:1.1;stroke-linejoin:round" d="M648,492.8 L653,494.8 L652.2,497.8 L647.2,496 Z"/><ellipse style="fill:#c8c8c8;stroke:#111;stroke-width:1.6" cx="646.6" cy="493.4" rx="2.7" ry="4" transform="rotate(-15 646.6 493.4)"/></g>
<!-- screw 14 right -->
<g><path style="fill:#777;stroke:#111;stroke-width:1.1;stroke-linejoin:round" d="M779,573 L784,575.4 L782.8,578.2 L778,575.8 Z"/><ellipse style="fill:#fff;stroke:#111;stroke-width:1.7" cx="785.2" cy="577.8" rx="2.9" ry="4.4" transform="rotate(-20 785.2 577.8)"/><ellipse cx="785.6" cy="578.2" rx="1.1" ry="1.8" fill="#555"/></g>
<!-- nut 15 -->
<g><path style="fill:#c4c4c4;stroke:#111;stroke-width:1.6;stroke-linejoin:round" d="M808.4,534.2 L810.6,531.6 L814.6,531.8 L817.6,534.6 L816.4,541.4 L812.6,542.6 L809.4,540.6 L808,537.4 Z"/><ellipse style="fill:#fff;stroke:#111;stroke-width:1.5" cx="816" cy="539" rx="3.7" ry="4.1" transform="rotate(-15 816 539)"/></g>
<!-- rivet 10 -->
<g><path class="tw" style="stroke-width:1.3;fill:#ddd" d="M844.4,436 L842.6,446.4 L844,447 L848.4,436.4 Z"/><path class="t" style="stroke-width:.6" d="M843.6,441.4 L846.4,441.9"/><ellipse class="tw" style="stroke-width:1.5;fill:#aaa" cx="846.4" cy="434.9" rx="3.9" ry="1.5" transform="rotate(8 846.4 434.9)"/></g>
<!-- clip 7 -->
<g><path style="fill:#777;stroke:#0c0c0c;stroke-width:2.1;stroke-linejoin:round" d="M826.4,442 L833.6,446.2 L839.2,462 L833,465.4 Z"/><path class="t" style="stroke:#bbb;stroke-width:1.1" d="M830.6,448 L835.8,462.4"/><path class="tw" style="stroke-width:1.1" d="M832.2,465.2 L838.6,462.6 L841.2,466.2 L840,468.8 L834.6,469.2 Q832,468 832.2,465.2 Z"/><path style="fill:#fff;stroke:#0c0c0c;stroke-width:2;stroke-linejoin:round" d="M839.4,460 L847.6,460.2 L855.6,465.4 L852,468 L841.6,465.2 Z"/><path class="n" style="stroke-width:1.3" d="M843,463.2 L849.6,463.6 L852.6,466"/></g>
</g>
<g id="labels">
<text x="207" y="285.5">11</text><text x="231" y="285.5">16</text>
<text x="399.2" y="290.9">9</text><text x="423.8" y="290.9">17</text>
<text x="189.7" y="426.5">2</text>
<text x="269.4" y="513.5">9</text><text x="290" y="503.5">17</text>
<text x="183.5" y="548.3">11</text><text x="201.5" y="592.0">16</text>
<text x="401" y="503.7">12</text><text x="583.1" y="572.6">12</text>
<text x="399.1" y="595.3">4</text>
<text x="494.5" y="568.5">18</text><text x="485.9" y="597.2">18</text>
<text x="725" y="282.9">5</text><text x="810" y="333.9">6</text><text x="788.7" y="388.3">3</text>
<text x="638" y="393.0">8</text><text x="802" y="463.9">8</text><text x="607.7" y="508.4">8</text><text x="761" y="617.5">8</text>
<text x="682.4" y="440.8">13</text>
<text x="873" y="440.0">10</text><text x="876.5" y="470.0">7</text>
<text x="623.7" y="495.5">14</text><text x="812" y="582.1">14</text>
<text x="594.1" y="524.5">1</text>
<text x="840.4" y="544">15</text>
</g>
<g id="fr">
<path d="M102.6,667.3 L105.8,654.2 L107.9,657.8 L126,647.5 L130.6,656.3 L113.8,668.2 L115.7,671.8 Z" fill="#000"/>
<g transform="translate(131.2 655.8) rotate(-30)" fill="#000"><path d="M0,0 V-10 H7.4 V-7.8 H2.7 V-6.1 H6.6 V-4 H2.7 V0 Z"/><path fill-rule="evenodd" d="M10.3,0 V-10 H15.6 Q19.3,-10 19.3,-6.9 Q19.3,-4.4 16.9,-3.9 L19.9,0 H16.7 L14.2,-3.7 H13 V0 Z M13,-7.9 V-5.7 H15.2 Q16.5,-5.7 16.5,-6.8 Q16.5,-7.9 15.2,-7.9 Z"/><circle cx="23.8" cy="-1.9" r="2"/></g>
</g>

</svg>
</body></html>
